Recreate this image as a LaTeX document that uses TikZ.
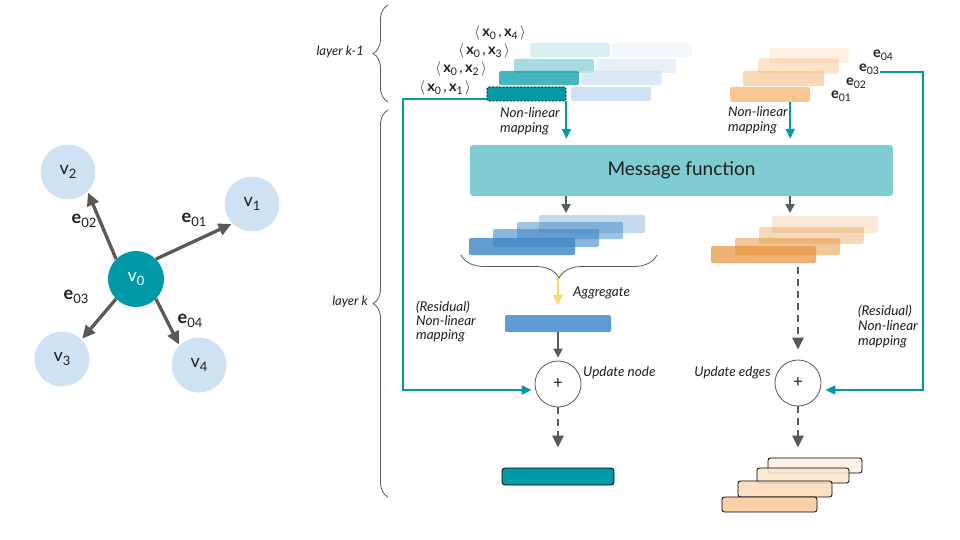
\documentclass[tikz,border=0pt]{standalone}
\usepackage{fontspec}
\setmainfont{Lato}
\usetikzlibrary{arrows.meta,decorations.pathreplacing,calc}
\definecolor{teal1}{RGB}{0,153,166}
\definecolor{msgc}{RGB}{128,204,211}
\definecolor{lblue}{RGB}{207,226,243}
\definecolor{dgray}{RGB}{89,89,89}
\definecolor{bblue}{RGB}{61,133,198}
\definecolor{aggc}{RGB}{95,155,211}
\definecolor{orng}{RGB}{230,145,56}
\definecolor{lorng}{RGB}{246,178,107}
\definecolor{yel}{RGB}{255,217,102}
\definecolor{txt}{RGB}{30,30,30}
\definecolor{pa}{RGB}{249,203,156}
\definecolor{pb}{RGB}{251,218,184}
\definecolor{pc}{RGB}{252,229,205}
\definecolor{pd}{RGB}{253,240,226}
\newcommand{\sbs}[1]{\raisebox{-0.45ex}{\fontsize{0.72\dimexpr\fontdimen6\font\relax}{1pt}\selectfont #1}}
\begin{document}
\begin{tikzpicture}[x=1pt,y=-1pt,
  vert/.style={circle,inner sep=0pt,minimum size=55pt,fill=lblue,text=txt,font=\fontsize{18}{20}\selectfont},
  garrow/.style={draw=dgray,line width=3.3pt,-{Triangle[length=13pt,width=12pt]}},
  elab/.style={inner sep=1pt,text=txt,font=\fontsize{18}{20}\selectfont},
  etop/.style={inner sep=1pt,text=txt,font=\fontsize{14.5}{16}\selectfont},
  blk/.style={rectangle,rounded corners=2pt,inner sep=0pt,draw=none},
  lab/.style={inner sep=0pt,text=txt,align=left,font=\fontsize{13.5}{15}\selectfont\itshape},
  tarrow/.style={draw=teal1,line width=2pt,line join=miter,-{Triangle[length=10pt,width=9pt]}},
  gsolid/.style={draw=dgray,line width=2pt,-{Triangle[length=9pt,width=9pt]}},
  gdash/.style={draw=dgray,line width=2.5pt,dash pattern=on 7pt off 5pt,-{Triangle[length=12pt,width=11pt]}},
  brc/.style={draw=dgray,line width=0.8pt,decorate},
  plus/.style={circle,draw=dgray,line width=0.8pt,minimum size=46pt,inner sep=0pt,font=\fontsize{17}{18}\selectfont,text=txt},
]
\useasboundingbox (0,0) rectangle (960,540);

% ---------------- left graph ----------------
\node[vert,fill=teal1,text=white,minimum size=56pt] (v0) at (136,279) {v\sbs{0}};
\node[vert] (v1) at (252,204) {v\sbs{1}};
\node[vert] (v2) at (68,172) {v\sbs{2}};
\node[vert] (v3) at (62,359) {v\sbs{3}};
\node[vert] (v4) at (199,365) {v\sbs{4}};
\draw[garrow,shorten >=1pt] (v0.45) -- (v1.225);
\draw[garrow,shorten >=1pt] (v0.135) -- (v2.315);
\draw[garrow,shorten >=1pt] (v0.225) -- (v3.45);
\draw[garrow,shorten >=1pt] (v0.315) -- (v4.135);
\node[elab] (le01) at (194,220) {\textbf{e}\sbs{01}};
\node[elab] (le02) at (84,221) {\textbf{e}\sbs{02}};
\node[elab] (le03) at (76,297) {\textbf{e}\sbs{03}};
\node[elab] (le04) at (190,321) {\textbf{e}\sbs{04}};

% ---------------- layer braces ----------------
\coordinate (bk1a) at (388,102); \coordinate (bk1b) at (388,5);
\coordinate (bka) at (388,497); \coordinate (bkb) at (388,110);
\draw[brc,decoration={brace,amplitude=15pt}] (bk1a) -- (bk1b);
\draw[brc,decoration={brace,amplitude=15pt}] (bka) -- (bkb);
\node[lab,font=\fontsize{13}{15}\selectfont\itshape,anchor=east] (lk1) at (364,52) {layer k-1};
\node[lab,font=\fontsize{13}{15}\selectfont\itshape,anchor=east] (lk) at (368,302) {layer k};

% ---------------- top node features ----------------
\node[blk,minimum width=80pt,minimum height=14pt,fill=teal1,fill opacity=0.15] (r4) at (570,50) {};
\node[blk,minimum width=80pt,minimum height=14pt,fill=lblue,fill opacity=0.25] (b4) at (652,50) {};
\node[blk,minimum width=80pt,minimum height=14pt,fill=teal1,fill opacity=0.35] (r3) at (554,66) {};
\node[blk,minimum width=80pt,minimum height=14pt,fill=lblue,fill opacity=0.5] (b3) at (636,66) {};
\node[blk,minimum width=80pt,minimum height=14pt,fill=teal1,fill opacity=0.72] (r2) at (539,78) {};
\node[blk,minimum width=80pt,minimum height=14pt,fill=lblue,fill opacity=0.75] (b2) at (621.5,78) {};
\node[blk,minimum width=79pt,minimum height=14pt,fill=teal1,draw=black,line width=0.8pt,dash pattern=on 2pt off 1.5pt] (r1) at (526.5,94) {};
\node[blk,minimum width=80pt,minimum height=14pt,fill=lblue] (b1) at (611,94) {};

\node[etop] (x1) at (445,88) {$\langle$\,\textbf{x}\sbs{0}\,,\,\textbf{x}\sbs{1}\,$\rangle$};
\node[etop] (x2) at (461,69) {$\langle$\,\textbf{x}\sbs{0}\,,\,\textbf{x}\sbs{2}\,$\rangle$};
\node[etop] (x3) at (484,51) {$\langle$\,\textbf{x}\sbs{0}\,,\,\textbf{x}\sbs{3}\,$\rangle$};
\node[etop] (x4) at (500,33) {$\langle$\,\textbf{x}\sbs{0}\,,\,\textbf{x}\sbs{4}\,$\rangle$};

% ---------------- top edge features ----------------
\node[blk,minimum width=80pt,minimum height=15pt,fill=lorng,fill opacity=0.2] (o4) at (809,55.5) {};
\node[blk,minimum width=81pt,minimum height=15pt,fill=lorng,fill opacity=0.35] (o3) at (798.5,66) {};
\node[blk,minimum width=81pt,minimum height=15pt,fill=lorng,fill opacity=0.5] (o2) at (783.5,78.5) {};
\node[blk,minimum width=80pt,minimum height=15pt,fill=lorng,fill opacity=0.72] (o1) at (770,94.5) {};

\node[etop] (e01t) at (841,96) {\textbf{e}\sbs{01}};
\node[etop] (e02t) at (856,83) {\textbf{e}\sbs{02}};
\node[etop] (e03t) at (869,69) {\textbf{e}\sbs{03}};
\node[etop] (e04t) at (883,55) {\textbf{e}\sbs{04}};

% ---------------- message function ----------------
\node[blk,rounded corners=3pt,minimum width=423pt,minimum height=51pt,fill=msgc,text=txt,font=\fontsize{19}{21}\selectfont] (msg) at (681.5,170.5) {Message function};

\draw[tarrow,shorten >=6pt] (r1.south east) -- (r1.south east |- msg.north);
\draw[tarrow,shorten >=6pt] ([xshift=-20pt]o1.south east) -- ([xshift=-20pt]o1.south east |- msg.north);
\node[lab,anchor=west] (nl1) at (500,121) {Non-linear\\mapping};
\node[lab,anchor=west] (nl2) at (728,120) {Non-linear\\mapping};

\coordinate (ga) at (566,213);
\coordinate (gb) at (790,213);
\draw[gsolid] (msg.south -| ga) -- (ga);
\draw[gsolid] (msg.south -| gb) -- (gb);

% ---------------- messages ----------------
\node[blk,minimum width=106pt,minimum height=18pt,fill=bblue,fill opacity=0.3] (m4) at (592,224) {};
\node[blk,minimum width=106pt,minimum height=17pt,fill=bblue,fill opacity=0.5] (m3) at (570,230.5) {};
\node[blk,minimum width=106pt,minimum height=18pt,fill=bblue,fill opacity=0.6] (m2) at (546,238) {};
\node[blk,minimum width=106pt,minimum height=17pt,fill=bblue,fill opacity=0.8] (m1) at (522,246.5) {};

\node[blk,minimum width=106pt,minimum height=17pt,fill=orng,fill opacity=0.2] (n4) at (825,224.5) {};
\node[blk,minimum width=105pt,minimum height=17pt,fill=orng,fill opacity=0.35] (n3) at (811.5,235.5) {};
\node[blk,minimum width=105pt,minimum height=17pt,fill=orng,fill opacity=0.5] (n2) at (787.5,246.5) {};
\node[blk,minimum width=105pt,minimum height=17pt,fill=orng,fill opacity=0.7] (n1) at (763.5,254.5) {};

% aggregate brace
\coordinate (brR) at (657,255); \coordinate (brL) at (461,255);
\coordinate (aggtip) at (558,278);
\draw[brc,decoration={brace,amplitude=23pt}] (brR) -- (brL);

\node[blk,minimum width=106pt,minimum height=17pt,fill=aggc] (agg) at (558,323.5) {};
\draw[draw=yel,line width=2pt,-{Triangle[length=10pt,width=10pt]},shorten >=10pt] (aggtip) -- (agg.north);
\node[lab,anchor=west] (aggl) at (573,293) {Aggregate};

% ---------------- updates ----------------
\node[plus] (c1) at (558,384) {+};
\node[plus] (c2) at (798,383) {+};
\draw[gsolid,shorten >=3pt] (agg.south) -- (c1.north);
\draw[gdash,shorten <=4pt,shorten >=10pt] (n1.south -| c2.north) -- (c2.north);
\node[lab,anchor=west] (upn) at (583,373) {Update node};
\node[lab,anchor=east] (upe) at (771,373) {Update edges};

\coordinate (lc) at (403,390);
\coordinate (rc) at (923,390);
\draw[tarrow,shorten >=3pt] ([yshift=-5pt]r1.west) -| (lc) -- ([yshift=-6pt]c1.west);
\draw[tarrow,shorten >=4pt] ([yshift=-3pt]e03t.east) -| (rc) -- ([yshift=-7pt]c2.east);
\node[lab,anchor=west,font=\fontsize{13.5}{14}\selectfont\itshape] (res1) at (416,321) {(Residual)\\Non-linear\\mapping};
\node[lab,anchor=west] (res2) at (858,326) {(Residual)\\Non-linear\\mapping};

% ---------------- outputs ----------------
\node[blk,rounded corners=3pt,minimum width=112pt,minimum height=17pt,fill=teal1,draw=black,line width=0.8pt] (out) at (558,476.5) {};
\node[blk,rounded corners=2.5pt,minimum width=94pt,minimum height=15pt,fill=pd,fill opacity=0.85,draw=black,line width=0.8pt] (p4) at (815,465.5) {};
\node[blk,rounded corners=2.5pt,minimum width=92pt,minimum height=15pt,fill=pc,fill opacity=0.85,draw=black,line width=0.8pt] (p3) at (803,475.5) {};
\node[blk,rounded corners=2.5pt,minimum width=94pt,minimum height=16pt,fill=pb,fill opacity=0.85,draw=black,line width=0.8pt] (p2) at (785,489) {};
\node[blk,rounded corners=2.5pt,minimum width=95pt,minimum height=15pt,fill=pa,fill opacity=0.9,draw=black,line width=0.8pt] (p1) at (769.5,504.5) {};

\draw[gdash,shorten >=20pt] (c1.south) -- (out.north);
\draw[gdash,shorten >=10pt] (c2.south) -- (c2.south |- p4.north);
\end{tikzpicture}
\end{document}
